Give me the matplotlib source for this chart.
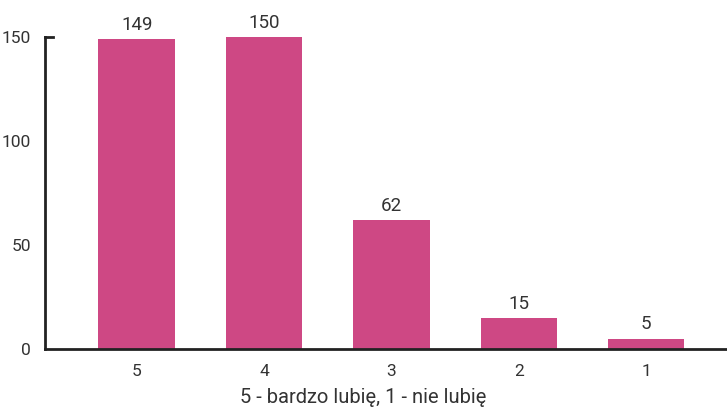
import matplotlib
matplotlib.use("Agg")
import matplotlib.pyplot as plt

categories = ["5", "4", "3", "2", "1"]
values = [149, 150, 62, 15, 5]
yticks = [0, 50, 100, 150]
xlabel = "5 - bardzo lubię, 1 - nie lubię"

plt.rcParams['font.family'] = ['Roboto', 'DejaVu Sans']
text_color = "#333333"
bar_color = "#CE4884"

fig = plt.figure(figsize=(7.27, 4.12), dpi=100)
ax = fig.add_axes([45/727, (412-349)/412, 1 - 45/727, (349-37)/412])

x = list(range(len(categories)))
bars = ax.bar(x, values, width=0.6, color=bar_color, zorder=2)
for xi, v in zip(x, values):
    ax.text(xi, v + 2.5, str(v), ha="center", va="bottom", fontsize=13.5, color=text_color)

ax.set_xlim(-0.72, 4.635)
ax.set_ylim(0, 150)
ax.set_xticks(x)
ax.set_xticklabels(categories)
ax.set_yticks(yticks)
ax.tick_params(axis="both", length=0, labelsize=12.5, colors=text_color)
ax.tick_params(axis="x", pad=11)
ax.tick_params(axis="y", pad=10)
for s in ["top", "right"]:
    ax.spines[s].set_visible(False)
for s in ["left", "bottom"]:
    ax.spines[s].set_color("#222222")
    ax.spines[s].set_linewidth(2)
ax.plot([0, 0.012], [150, 150], transform=ax.get_yaxis_transform(), color="#222222", lw=2, clip_on=False)
ax.set_xlabel(xlabel, fontsize=14.5, color=text_color, labelpad=6)
ax.xaxis.label.set_x((727/2 - 45) / (727 - 45))
ax.set_facecolor("white")
fig.savefig("out.png", dpi=100, facecolor="white")
